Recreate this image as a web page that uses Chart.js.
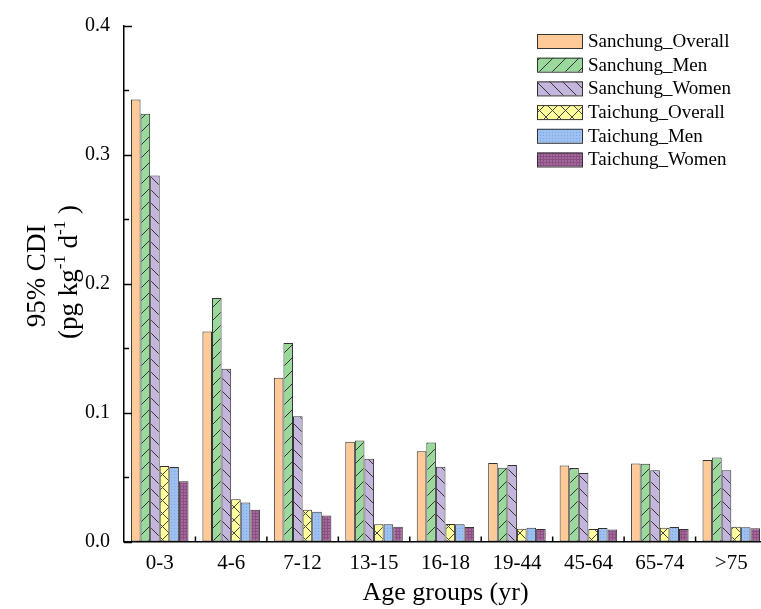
<!DOCTYPE html>
<html>
<head>
<meta charset="utf-8">
<script src="https://cdn.jsdelivr.net/npm/chart.js@4.4.1/dist/chart.umd.min.js"></script>
<style>
  html, body { margin: 0; padding: 0; background: #ffffff; overflow: hidden; }
  #wrap { width: 780px; height: 609px; }
</style>
</head>
<body>
<div id="wrap"><canvas id="c" width="780" height="609"></canvas></div>
<script>
// ---- data ----
const categories = ['0-3', '4-6', '7-12', '13-15', '16-18', '19-44', '45-64', '65-74', '>75'];
const sanchungOverall = [0.343, 0.163, 0.127, 0.0774, 0.0701, 0.0609, 0.0590, 0.0606, 0.0632];
const sanchungMen     = [0.332, 0.189, 0.154, 0.0784, 0.0768, 0.0573, 0.0570, 0.0604, 0.0652];
const sanchungWomen   = [0.284, 0.134, 0.0972, 0.0642, 0.0580, 0.0593, 0.0531, 0.0552, 0.0552];
const taichungOverall = [0.0585, 0.0328, 0.0246, 0.0133, 0.0135, 0.0099, 0.0097, 0.0107, 0.0114];
const taichungMen     = [0.0578, 0.0303, 0.0230, 0.0133, 0.0133, 0.0107, 0.0104, 0.0112, 0.0110];
const taichungWomen   = [0.0467, 0.0246, 0.0202, 0.0114, 0.0112, 0.0097, 0.0094, 0.0097, 0.0102];
const seriesNames = ['Sanchung_Overall', 'Sanchung_Men', 'Sanchung_Women', 'Taichung_Overall', 'Taichung_Men', 'Taichung_Women'];
const yTicks = [0, 0.1, 0.2, 0.3, 0.4];
const yMinorTicks = [0.05, 0.15, 0.25, 0.35];
const xTitle = 'Age groups (yr)';

// ---- patterns ----
const FONT = "'Liberation Serif', 'Times New Roman', serif";
function tile(w, h, fn) {
  const c = document.createElement('canvas');
  c.width = w; c.height = h;
  const g = c.getContext('2d');
  fn(g, w, h);
  return document.getElementById('c').getContext('2d').createPattern(c, 'repeat');
}
const solidOrange = '#FFC998';
const hatchSlash = tile(13, 13, (g, w, h) => {
  g.fillStyle = '#9AD89C'; g.fillRect(0, 0, w, h);
  g.strokeStyle = '#333'; g.lineWidth = 1;
  g.beginPath();
  g.moveTo(-1, h + 1); g.lineTo(w + 1, -1);
  g.moveTo(-1, 1); g.lineTo(1, -1);
  g.moveTo(w - 1, h + 1); g.lineTo(w + 1, h - 1);
  g.stroke();
});
const hatchBack = tile(13, 13, (g, w, h) => {
  g.fillStyle = '#C4B5DC'; g.fillRect(0, 0, w, h);
  g.strokeStyle = '#333'; g.lineWidth = 1;
  g.beginPath();
  g.moveTo(-1, -1); g.lineTo(w + 1, h + 1);
  g.moveTo(w - 1, -1); g.lineTo(w + 1, 1);
  g.moveTo(-1, h - 1); g.lineTo(1, h + 1);
  g.stroke();
});
const hatchCross = tile(13, 13, (g, w, h) => {
  g.fillStyle = '#FFFF9C'; g.fillRect(0, 0, w, h);
  g.strokeStyle = '#444'; g.lineWidth = 1;
  g.beginPath();
  g.moveTo(-1, -1); g.lineTo(w + 1, h + 1);
  g.moveTo(-1, h + 1); g.lineTo(w + 1, -1);
  g.stroke();
});
const dotsBlue = tile(3, 3, (g, w, h) => {
  g.fillStyle = '#9CC0F2'; g.fillRect(0, 0, w, h);
  g.fillStyle = '#7FA6DE'; g.fillRect(0, 0, 1, 1);
});
const gridPurple = tile(3, 3, (g, w, h) => {
  g.fillStyle = '#A46A9C'; g.fillRect(0, 0, w, h);
  g.fillStyle = '#8A4E83'; g.fillRect(0, 0, 3, 1); g.fillRect(0, 0, 1, 3);
});
const fills = [solidOrange, hatchSlash, hatchBack, hatchCross, dotsBlue, gridPurple];
const seriesValues = [sanchungOverall, sanchungMen, sanchungWomen, taichungOverall, taichungMen, taichungWomen];

const datasets = seriesValues.map((vals, i) => ({
  label: seriesNames[i],
  data: vals,
  backgroundColor: fills[i],
  borderColor: '#333333',
  borderWidth: 1,
  borderSkipped: false,
  barPercentage: 1.0,
  categoryPercentage: 0.805
}));

// ---- custom drawing: ticks, y title, legend ----
const decor = {
  id: 'decor',
  afterDraw(chart) {
    const ctx = chart.ctx;
    const x = chart.scales.x, y = chart.scales.y;
    const area = chart.chartArea;
    ctx.save();
    ctx.strokeStyle = '#000'; ctx.lineWidth = 1.5;
    // y ticks (inward)
    yTicks.forEach(v => {
      const py = Math.round(y.getPixelForValue(v)) + 0.5;
      ctx.beginPath(); ctx.moveTo(area.left, py); ctx.lineTo(area.left + 8, py); ctx.stroke();
    });
    yMinorTicks.forEach(v => {
      const py = Math.round(y.getPixelForValue(v)) + 0.5;
      ctx.beginPath(); ctx.moveTo(area.left, py); ctx.lineTo(area.left + 5, py); ctx.stroke();
    });
    // x ticks between groups (inward)
    for (let i = 1; i < categories.length; i++) {
      const px = (x.getPixelForValue(i - 1) + x.getPixelForValue(i)) / 2;
      ctx.beginPath(); ctx.moveTo(px, area.bottom); ctx.lineTo(px, area.bottom - 5); ctx.stroke();
    }
    // y title
    const midY = 276;
    ctx.fillStyle = '#000';
    ctx.save();
    ctx.translate(38, midY);
    ctx.rotate(-Math.PI / 2);
    ctx.textBaseline = 'middle';
    ctx.textAlign = 'center';
    ctx.font = '27px ' + FONT;
    ctx.fillText('95% CDI', 0, 0);
    ctx.restore();
    ctx.save();
    ctx.translate(70, midY - 4);
    ctx.rotate(-Math.PI / 2);
    ctx.textBaseline = 'middle';
    const parts = [['(pg kg', false], ['-1', true], [' d', false], ['-1', true], [' )', false]];
    const big = '27px ' + FONT, small = '17px ' + FONT;
    let total = 0;
    parts.forEach(p => { ctx.font = p[1] ? small : big; total += ctx.measureText(p[0]).width; });
    let cx = -total / 2;
    ctx.textAlign = 'left';
    parts.forEach(p => {
      ctx.font = p[1] ? small : big;
      ctx.fillText(p[0], cx, p[1] ? -9 : 0);
      cx += ctx.measureText(p[0]).width;
    });
    ctx.restore();
    // legend
    ctx.textBaseline = 'middle';
    ctx.textAlign = 'left';
    ctx.font = '19px ' + FONT;
    seriesNames.forEach((name, i) => {
      const cy = 41 + i * 23.7;
      ctx.fillStyle = fills[i];
      ctx.fillRect(537, cy - 7, 45, 14);
      ctx.strokeStyle = '#333'; ctx.lineWidth = 1;
      ctx.strokeRect(537.5, cy - 7 + 0.5, 45, 14);
      ctx.fillStyle = '#000';
      ctx.fillText(name, 588, cy + 1);
    });
    ctx.restore();
  }
};

new Chart(document.getElementById('c'), {
  type: 'bar',
  data: { labels: categories, datasets },
  plugins: [decor],
  options: {
    responsive: false,
    animation: false,
    layout: { padding: { top: 23, right: 13, left: 0, bottom: 0 } },
    plugins: { legend: { display: false }, tooltip: { enabled: false } },
    scales: {
      x: {
        grid: { display: false, drawTicks: false },
        border: { display: true, color: '#000', width: 1.5 },
        ticks: { color: '#000', font: { family: FONT, size: 21 }, padding: 9, maxRotation: 0, autoSkip: false },
        title: { display: true, text: xTitle, color: '#000', font: { family: FONT, size: 26 }, padding: { top: 0, bottom: 0 } },
        afterFit(s) { s.height = 67.5; }
      },
      y: {
        min: 0, max: 0.4,
        grid: { display: false, drawTicks: false },
        border: { display: true, color: '#000', width: 1.5 },
        afterBuildTicks(s) { s.ticks = yTicks.map(v => ({ value: v })); },
        ticks: { color: '#000', font: { family: FONT, size: 20 }, padding: 14, callback: v => Number(v).toFixed(1) },
        afterFit(s) { s.width = 124; }
      }
    }
  }
});
</script>
</body>
</html>
